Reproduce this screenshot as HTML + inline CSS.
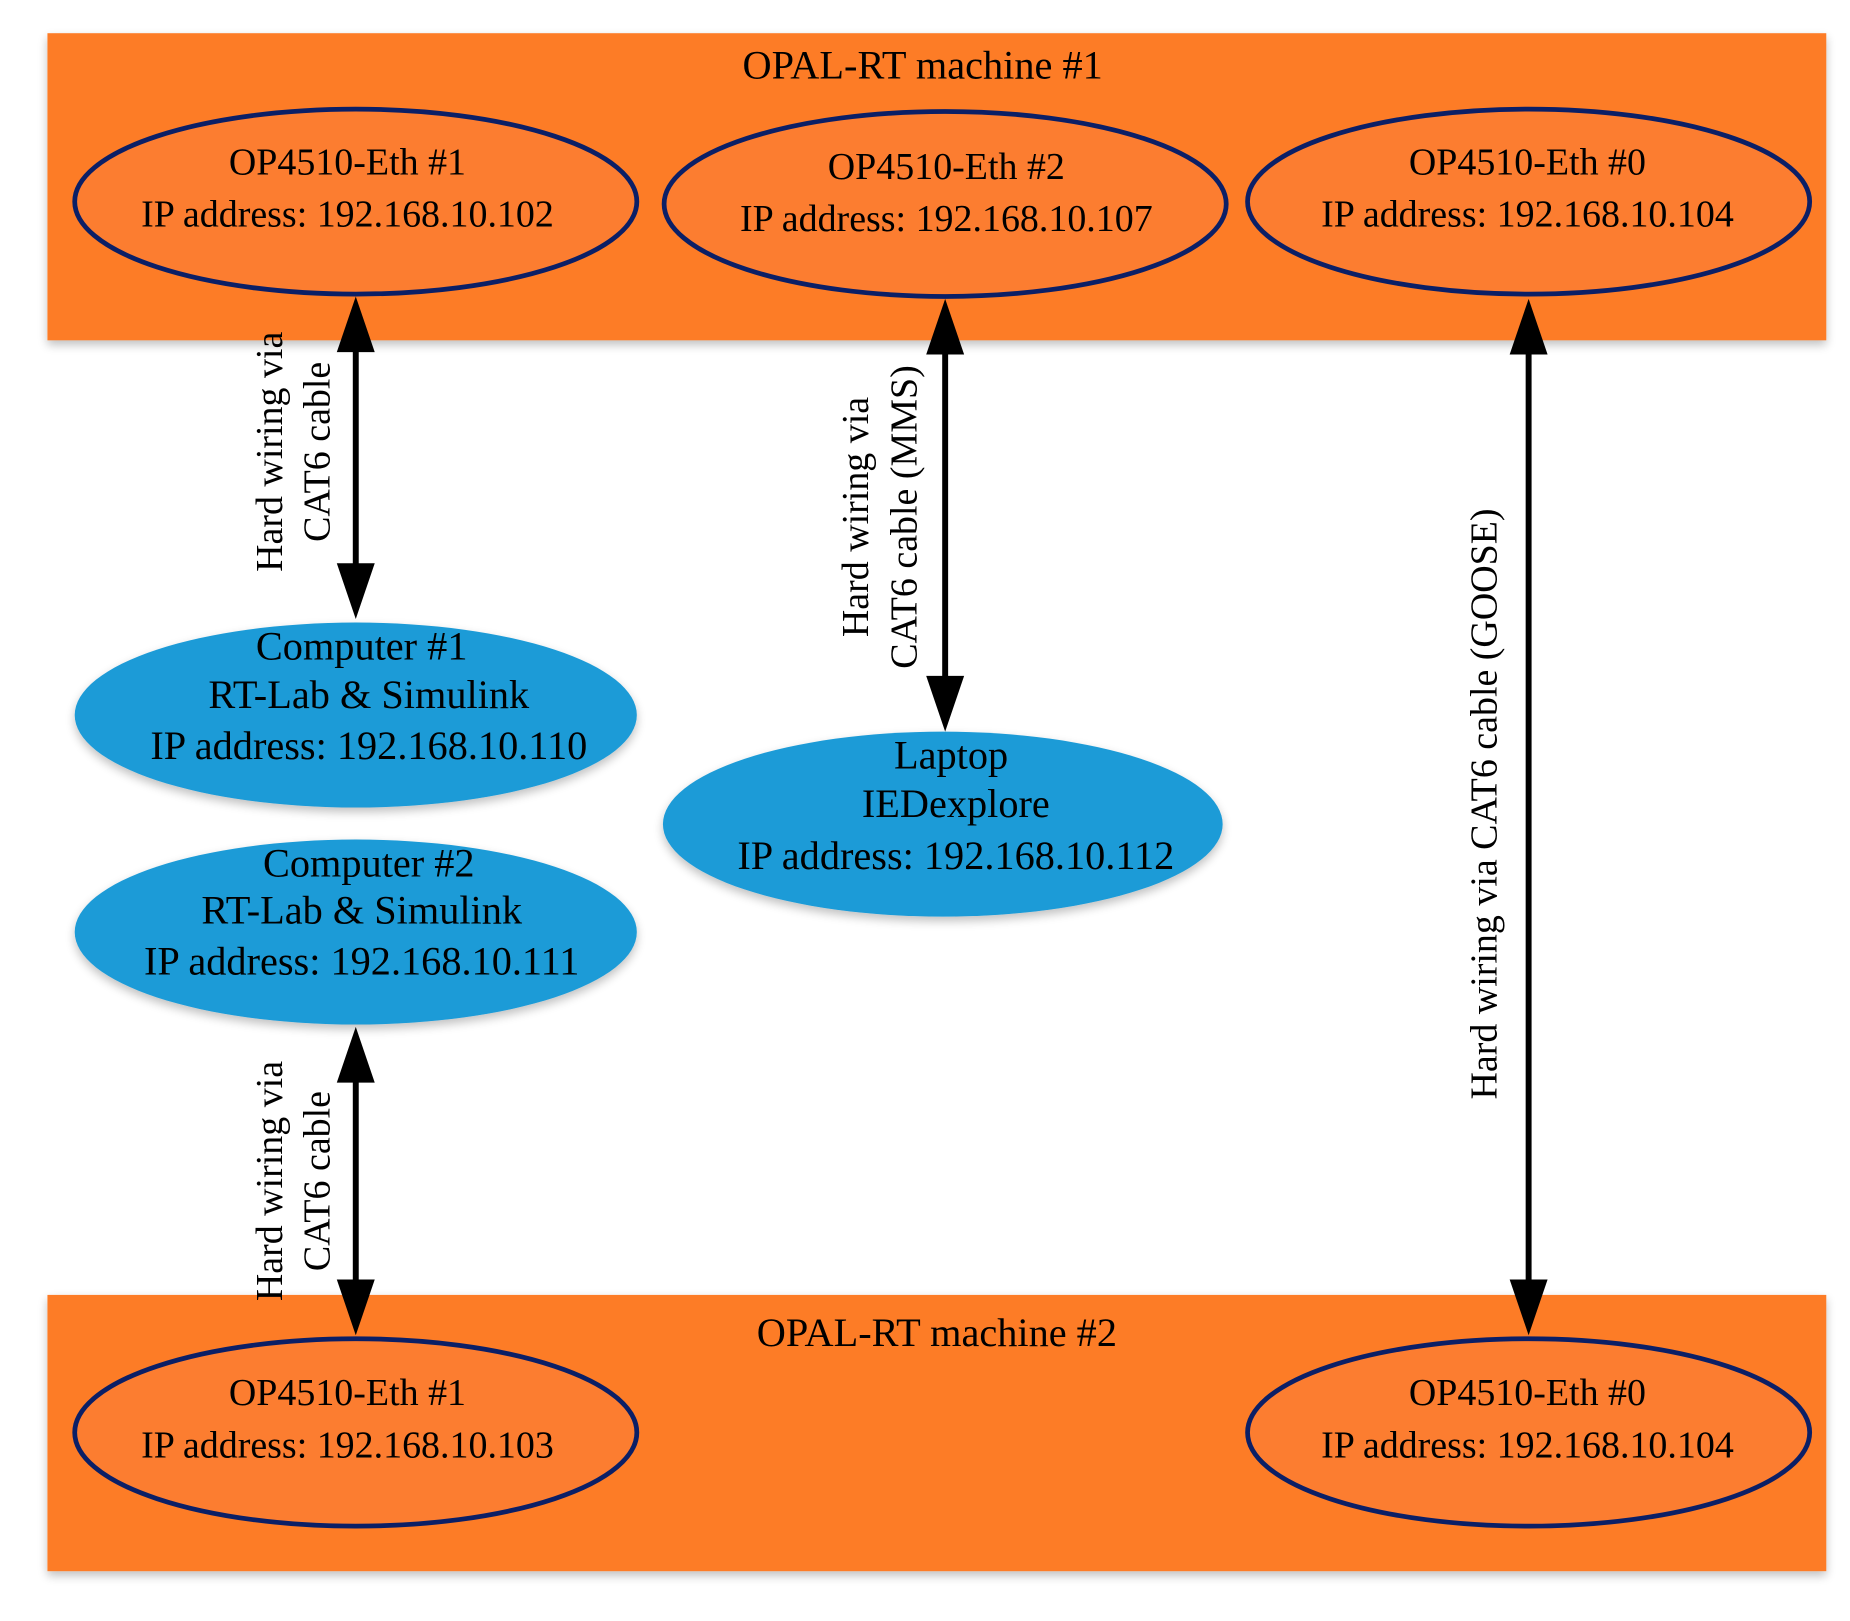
<!DOCTYPE html>
<html><head><meta charset="utf-8"><style>html,body{margin:0;padding:0;background:#fff}svg{display:block}</style></head>
<body>
<svg width="1850" height="1621" viewBox="0 0 1560 1367" preserveAspectRatio="none" xmlns="http://www.w3.org/2000/svg" font-family="'Liberation Serif', serif" fill="#000">
<defs>
<filter id="sh" x="-5%" y="-5%" width="110%" height="115%"><feGaussianBlur in="SourceAlpha" stdDeviation="4"/><feOffset dy="4"/><feComponentTransfer><feFuncA type="linear" slope="0.25"/></feComponentTransfer><feMerge><feMergeNode/><feMergeNode in="SourceGraphic"/></feMerge></filter>
</defs>
<rect x="40" y="28" width="1500" height="259" fill="#fd7b27" filter="url(#sh)"/>
<rect x="40" y="1092" width="1500" height="233" fill="#fd7b27" filter="url(#sh)"/>
<g font-size="34" text-anchor="middle">
<text x="778" y="66">OPAL-RT machine #1</text>
<text x="790" y="1135">OPAL-RT machine #2</text>
</g>
<g fill="#fc7d30" stroke="#0b1f66" stroke-width="4">
<ellipse cx="300" cy="170" rx="237" ry="78"/>
<ellipse cx="797" cy="172" rx="237" ry="78"/>
<ellipse cx="1289" cy="170" rx="237" ry="78"/>
<ellipse cx="300" cy="1208" rx="237" ry="79"/>
<ellipse cx="1289" cy="1208" rx="237" ry="79"/>
</g>
<g fill="#1e9bd7" filter="url(#sh)">
<ellipse cx="300" cy="603" rx="237" ry="78"/>
<ellipse cx="300" cy="786" rx="237" ry="78"/>
<ellipse cx="795" cy="695" rx="236" ry="78"/>
</g>
<g font-size="32" text-anchor="middle">
<text x="293" y="147">OP4510-Eth #1</text><text x="293" y="191">IP address: 192.168.10.102</text>
<text x="798" y="151">OP4510-Eth #2</text><text x="798" y="195">IP address: 192.168.10.107</text>
<text x="1288" y="147">OP4510-Eth #0</text><text x="1288" y="191">IP address: 192.168.10.104</text>
<text x="293" y="1185">OP4510-Eth #1</text><text x="293" y="1229">IP address: 192.168.10.103</text>
<text x="1288" y="1185">OP4510-Eth #0</text><text x="1288" y="1229">IP address: 192.168.10.104</text>
</g>
<g font-size="34" text-anchor="middle">
<text x="305" y="556">Computer #1</text><text x="311" y="597">RT-Lab &amp; Simulink</text><text x="311" y="640">IP address: 192.168.10.110</text>
<text x="311" y="739">Computer #2</text><text x="305" y="779">RT-Lab &amp; Simulink</text><text x="305" y="822">IP address: 192.168.10.111</text>
<text x="802" y="648">Laptop</text><text x="806" y="689">IEDexplore</text><text x="806" y="733">IP address: 192.168.10.112</text>
</g>
<g stroke="#000" stroke-width="5">
<line x1="300" y1="290" x2="300" y2="485"/>
<line x1="300" y1="905" x2="300" y2="1090"/>
<line x1="797" y1="292" x2="797" y2="578"/>
<line x1="1289" y1="292" x2="1289" y2="1088"/>
</g>
<g fill="#000">
<polygon points="300,250 284,297 316,297"/><polygon points="300,522 284,475 316,475"/>
<polygon points="300,866 284,913 316,913"/><polygon points="300,1126 284,1079 316,1079"/>
<polygon points="797,252 781,299 813,299"/><polygon points="797,617 781,570 813,570"/>
<polygon points="1289,252 1273,299 1305,299"/><polygon points="1289,1126 1273,1079 1305,1079"/>
</g>
<g font-size="32" text-anchor="middle">
<text transform="translate(238,381) rotate(-90)">Hard wiring via</text>
<text transform="translate(278,381) rotate(-90)">CAT6 cable</text>
<text transform="translate(238,996) rotate(-90)">Hard wiring via</text>
<text transform="translate(278,996) rotate(-90)">CAT6 cable</text>
<text transform="translate(732,436) rotate(-90)">Hard wiring via</text>
<text transform="translate(773,436) rotate(-90)">CAT6 cable (MMS)</text>
<text transform="translate(1262,678) rotate(-90)">Hard wiring via CAT6 cable (GOOSE)</text>
</g>
</svg>
</body></html>
